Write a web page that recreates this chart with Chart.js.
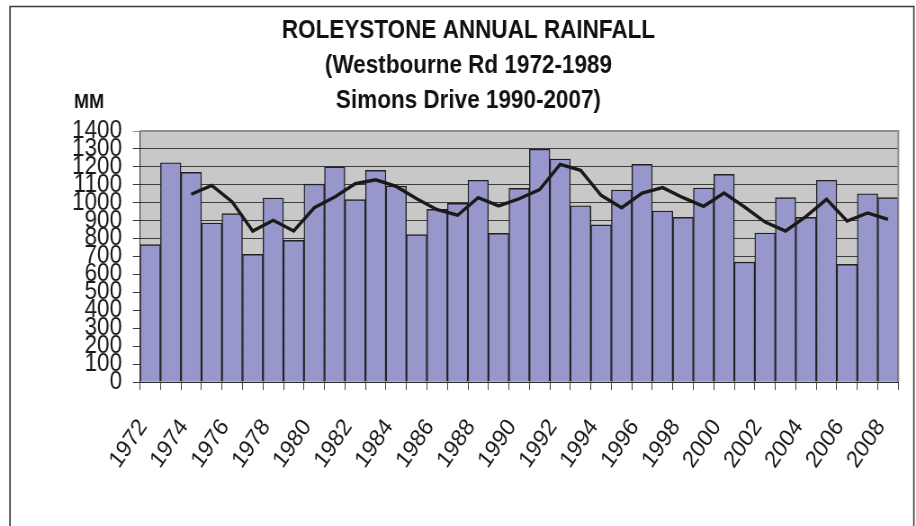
<!DOCTYPE html>
<html>
<head>
<meta charset="utf-8">
<script src="https://cdn.jsdelivr.net/npm/chart.js@4/dist/chart.umd.min.js"></script>
<style>
  html, body { margin: 0; padding: 0; background: #fff; overflow: hidden; }
  /* the reference is slightly squeezed sideways, so draw wider and squeeze */
  #chart { display: block; width: 916px; height: 526px; }
</style>
</head>
<body>
<canvas id="chart" width="1018" height="526" style="width:916px;height:526px"></canvas>
<script>
// years on the x axis
var years = [];
for (var y = 1972; y <= 2008; y++) years.push(String(y));

// annual rainfall (mm)
var rainfall = [
    766, 1223, 1169, 887, 939, 712, 1026, 790, 1104, 1200,
    1017, 1180, 1093, 822, 963, 996, 1125, 829, 1080, 1298,
    1244, 983, 876, 1071, 1214, 954, 918, 1082, 1158, 669,
    831, 1028, 918, 1125, 656, 1050, 1028
];

// trend line (starts at 1974)
var trend = [
    null, null, 1047, 1097, 1004, 842, 902, 842, 972, 1032,
    1106, 1128, 1091, 1022, 961, 930, 1028, 982, 1022, 1073,
    1214, 1181, 1041, 972, 1054, 1084, 1028, 980, 1054, 976,
    892, 842, 924, 1019, 898, 943, 907
];

var yTicks = { min: 0, max: 1400, step: 100 };

var titleLines = [
    'ROLEYSTONE ANNUAL RAINFALL',
    '(Westbourne Rd 1972-1989',
    'Simons Drive 1990-2007)'
];

var FONT = "'Liberation Sans', Arial, sans-serif";

// background of plot, outer frame and the "MM" label
var decor = {
    id: 'decor',
    beforeDraw: function(chart) {
        var ctx = chart.ctx, a = chart.chartArea;
        ctx.save();
        ctx.fillStyle = '#fff';
        ctx.fillRect(0, 0, chart.width, chart.height);

        ctx.strokeStyle = '#3a3a3a';
        ctx.lineWidth = 1.6;
        ctx.beginPath();
        ctx.moveTo(11.1, chart.height + 5);
        ctx.lineTo(11.1, 6.5);
        ctx.lineTo(1015.6, 6.5);
        ctx.lineTo(1015.6, chart.height + 5);
        ctx.stroke();

        ctx.fillStyle = '#c8c8c8';
        ctx.fillRect(a.left, a.top, a.right - a.left, a.bottom - a.top);

        ctx.fillStyle = '#111';
        ctx.font = 'bold 20px ' + FONT;
        ctx.textAlign = 'center';
        ctx.textBaseline = 'middle';
        ctx.fillText('MM', 98.9, 102);
        ctx.restore();
    },
    afterDraw: function(chart) {
        var ctx = chart.ctx, a = chart.chartArea;
        ctx.save();
        ctx.strokeStyle = '#8e8e8e';
        ctx.lineWidth = 2;
        ctx.beginPath();
        ctx.moveTo(a.left, a.top);
        ctx.lineTo(a.right, a.top);
        ctx.lineTo(a.right, a.bottom);
        ctx.stroke();
        ctx.restore();
    }
};

new Chart(document.getElementById('chart'), {
    type: 'bar',
    data: {
        labels: years,
        datasets: [
            {
                type: 'line',
                label: 'Trend',
                data: trend,
                borderColor: '#1a1a1a',
                borderWidth: 3.4,
                pointRadius: 0,
                tension: 0,
                spanGaps: false,
                order: 0
            },
            {
                type: 'bar',
                label: 'Rainfall',
                data: rainfall,
                backgroundColor: '#9797cc',
                borderColor: '#202020',
                borderWidth: 1.4,
                categoryPercentage: 1,
                barPercentage: 1,
                order: 1
            }
        ]
    },
    options: {
        responsive: false,
        animation: false,
        devicePixelRatio: 1,
        layout: { padding: { left: 42.9, right: 19.7, top: 0, bottom: 0 } },
        plugins: {
            legend: { display: false },
            tooltip: { enabled: false },
            title: {
                display: true,
                text: titleLines,
                color: '#111',
                font: { family: FONT, size: 25, weight: 'bold', lineHeight: 1.4 },
                padding: { top: 13.2, bottom: 12.8 }
            }
        },
        scales: {
            x: {
                grid: {
                    display: true,
                    offset: true,
                    drawOnChartArea: false,
                    drawTicks: true,
                    tickLength: 8,
                    color: '#444'
                },
                border: { display: true, color: '#2a2a2a', width: 1 },
                ticks: {
                    autoSkip: false,
                    minRotation: 53,
                    maxRotation: 53,
                    padding: 24,
                    labelOffset: -8,
                    color: '#1a1a1a',
                    font: { family: FONT, size: 24 },
                    callback: function(v, i) { return i % 2 === 0 ? this.getLabelForValue(v) : ''; }
                },
                afterFit: function(s) {
                    s.height = 144;
                    s.paddingRight = 0;
                }
            },
            y: {
                min: yTicks.min,
                max: yTicks.max,
                grid: {
                    color: function(c) { return c.tick && c.tick.value === yTicks.max ? '#8e8e8e' : '#3c3c3c'; },
                    lineWidth: 1,
                    tickLength: 8
                },
                border: { display: true, color: '#2a2a2a', width: 1 },
                ticks: {
                    stepSize: yTicks.step,
                    maxTicksLimit: 20,
                    autoSkip: false,
                    padding: 12,
                    color: '#1a1a1a',
                    font: { family: FONT, size: 25, lineHeight: 1 },
                    callback: function(v) { return String(v); }
                },
                afterFit: function(s) { s.width = 112.7; }
            }
        }
    },
    plugins: [decor]
});
</script>
</body>
</html>
